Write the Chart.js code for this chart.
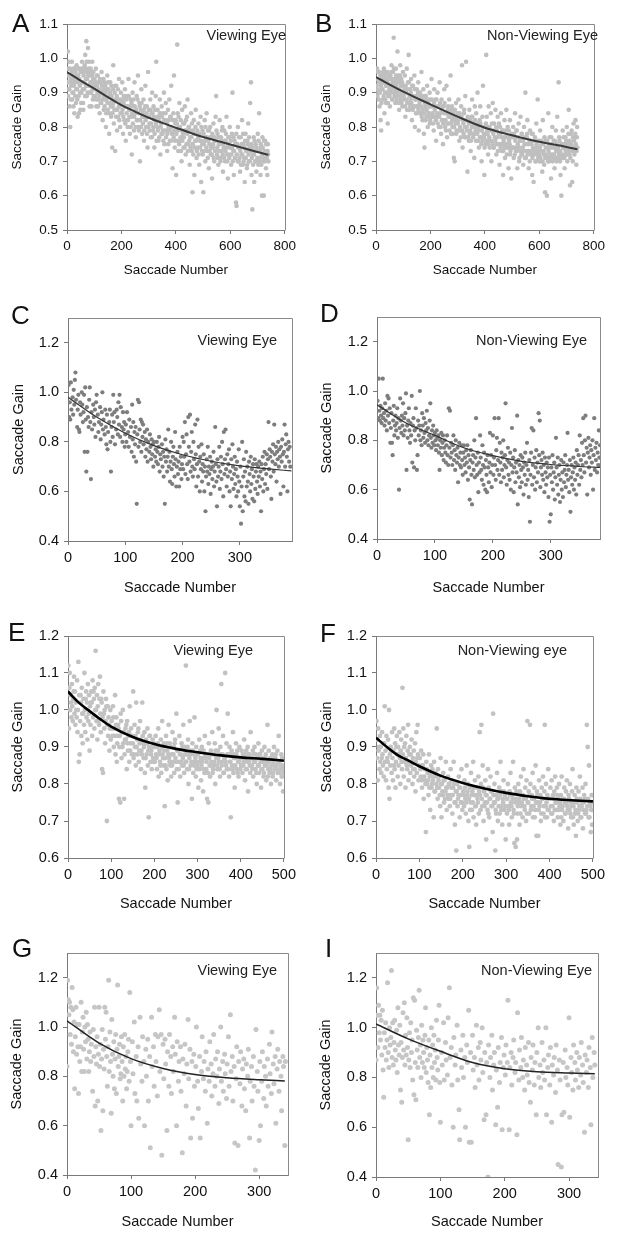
<!DOCTYPE html>
<html>
<head>
<meta charset="utf-8">
<script src="https://cdn.jsdelivr.net/npm/chart.js@4.4.1/dist/chart.umd.min.js"></script>
<style>
  html, body { margin: 0; padding: 0; background: #fff; }
  #fig { position: relative; width: 618px; height: 1238px; overflow: hidden; font-family: "Liberation Sans", Arial, sans-serif; }
  #fig canvas { position: absolute; }
  .lab { position: absolute; font-size: 26px; line-height: 1; color: #111; }
  .note { position: absolute; font-size: 14.5px; line-height: 1; color: #222; white-space: nowrap; }
</style>
</head>
<body>
<div id="fig"></div>
<script>
// tick labels
const xTicksAB = [0, 200, 400, 600, 800];
const yTicksAB = [0.5, 0.6, 0.7, 0.8, 0.9, 1.0, 1.1];
const xTicksCD = [0, 100, 200, 300];
const yTicksCD = [0.4, 0.6, 0.8, 1.0, 1.2];
const xTicksEF = [0, 100, 200, 300, 400, 500];
const yTicksEF = [0.6, 0.7, 0.8, 0.9, 1.0, 1.1, 1.2];
const xTicksGI = [0, 100, 200, 300];
const yTicksGI = [0.4, 0.6, 0.8, 1.0, 1.2];

// fitted curves
const fitA = [[0,0.96],[50,0.935],[100,0.912],[150,0.887],[200,0.864],[250,0.845],[300,0.827],[350,0.812],[400,0.798],[450,0.784],[500,0.771],[550,0.76],[600,0.749],[650,0.738],[700,0.727],[740,0.719]];
const fitB = [[0,0.945],[100,0.903],[200,0.866],[300,0.83],[400,0.798],[500,0.776],[600,0.757],[700,0.742],[740,0.735]];
const fitC = [[0,0.98],[50,0.9],[100,0.835],[150,0.785],[200,0.748],[250,0.722],[300,0.703],[350,0.691],[390,0.683]];
const fitD = [[0,0.944],[50,0.87],[100,0.82],[150,0.77],[200,0.738],[250,0.715],[300,0.702],[350,0.694],[385,0.69]];
const fitE = [[0,1.05],[25,1.02],[50,0.997],[75,0.975],[100,0.955],[150,0.927],[200,0.908],[250,0.895],[300,0.886],[350,0.878],[400,0.872],[450,0.868],[500,0.863]];
const fitF = [[0,0.925],[25,0.9],[50,0.878],[75,0.863],[100,0.848],[150,0.822],[200,0.803],[250,0.788],[300,0.776],[350,0.767],[400,0.76],[450,0.756],[500,0.753]];
const fitG = [[0,1.025],[50,0.935],[100,0.872],[150,0.832],[200,0.807],[250,0.794],[300,0.786],[340,0.781]];
const fitI = [[0,1.015],[50,0.955],[100,0.905],[150,0.86],[200,0.835],[250,0.823],[300,0.818],[340,0.815]];

// saccade gains [saccade number, gain]
const ptsA = [[2,0.93],[3,1.02],[4,0.89],[5,0.97],[7,0.91],[9,0.99],[10,0.86],[12,0.80],[13,0.94],[15,0.92],[17,0.96],[19,0.88],[21,0.95],[23,0.90],[25,0.97],[27,0.84],[29,0.93],[31,0.96],[33,0.87],[35,0.98],[37,0.91],[39,0.83],[41,0.95],[43,0.89],[45,0.97],[47,0.92],[49,0.85],[51,0.96],[53,0.90],[55,0.99],[57,0.93],[59,0.87],[61,0.95],[63,0.91],[65,0.98],[67,1.01],[69,0.94],[71,1.05],[73,0.89],[75,0.96],[77,1.03],[79,0.92],[81,0.99],[83,0.86],[85,0.95],[87,0.97],[89,0.90],[91,0.93],[93,0.99],[95,0.88],[97,0.96],[99,0.92],
[101,0.94],[104,0.89],[106,0.97],[108,0.86],[110,0.92],[113,0.95],[115,0.88],[117,0.91],[120,0.84],[122,0.93],[124,0.87],[127,0.96],[129,0.90],[131,0.82],[134,0.94],[136,0.89],[138,0.86],[141,0.92],[143,0.80],[145,0.88],[148,0.95],[150,0.85],[152,0.91],[155,0.78],[157,0.87],[159,0.93],[162,0.83],[164,0.89],[166,0.74],[168,0.86],[170,0.98],[172,0.81],[175,0.90],[177,0.73],[179,0.85],[181,0.92],[184,0.79],[186,0.88],[188,0.83],[191,0.94],[193,0.86],[195,0.80],[198,0.90],
[201,0.84],[203,0.93],[206,0.78],[208,0.87],[211,0.82],[213,0.91],[216,0.76],[218,0.86],[221,0.89],[223,0.80],[226,0.94],[228,0.85],[231,0.78],[233,0.88],[236,0.83],[238,0.72],[241,0.90],[243,0.86],[246,0.79],[248,0.93],[251,0.84],[253,0.77],[256,0.89],[258,0.82],[261,0.95],[263,0.80],[266,0.87],[268,0.70],[271,0.85],[273,0.91],[276,0.78],[278,0.84],[281,0.88],[283,0.76],[286,0.83],[288,0.92],[291,0.80],[293,0.86],[296,0.74],[298,0.96],
[301,0.85],[303,0.81],[306,0.88],[308,0.77],[311,0.84],[313,0.90],[316,0.79],[318,0.86],[321,0.74],[323,0.82],[326,0.89],[328,0.99],[331,0.80],[333,0.85],[336,0.76],[338,0.83],[341,0.88],[343,0.72],[346,0.81],[348,0.86],[351,0.78],[353,0.84],[356,0.90],[358,0.75],[361,0.82],[363,0.87],[366,0.79],[368,0.73],[371,0.85],[373,0.80],[376,0.88],[378,0.76],[381,0.83],[383,0.92],[386,0.78],[388,0.68],[391,0.84],[393,0.95],[396,0.74],[398,0.81],
[401,0.66],[403,0.79],[405,1.04],[407,0.84],[409,0.73],[411,0.80],[413,0.87],[416,0.76],[418,0.82],[421,0.70],[423,0.85],[426,0.78],[428,0.74],[431,0.81],[433,0.86],[436,0.72],[438,0.79],[441,0.83],[443,0.88],[446,0.75],[448,0.80],[451,0.69],[453,0.77],[456,0.84],[458,0.73],[461,0.61],[463,0.79],[466,0.82],[468,0.66],[471,0.76],[473,0.85],[476,0.71],[478,0.78],[481,0.74],[483,0.81],[486,0.69],[488,0.76],[491,0.83],[493,0.64],[496,0.73],[498,0.79],
[501,0.61],[503,0.75],[506,0.82],[508,0.70],[511,0.77],[513,0.84],[516,0.73],[518,0.79],[521,0.68],[523,0.75],[526,0.80],[528,0.72],[531,0.77],[533,0.65],[536,0.74],[538,0.81],[541,0.70],[543,0.76],[546,0.83],[548,0.89],[551,0.72],[553,0.78],[556,0.69],[558,0.75],[561,0.82],[563,0.71],[566,0.77],[568,0.73],[571,0.80],[573,0.67],[576,0.74],[578,0.79],[581,0.70],[583,0.76],[586,0.83],[588,0.72],[591,0.65],[593,0.77],[596,0.71],[598,0.80],
[601,0.74],[603,0.69],[606,0.78],[608,0.90],[611,0.73],[613,0.66],[616,0.76],[618,0.71],[621,0.58],[623,0.57],[626,0.75],[628,0.80],[631,0.70],[633,0.74],[636,0.67],[638,0.77],[641,0.72],[643,0.82],[646,0.69],[648,0.75],[651,0.71],[653,0.64],[656,0.78],[658,0.73],[661,0.68],[663,0.76],[666,0.81],[668,0.70],[671,0.74],[673,0.87],[676,0.93],[678,0.66],[681,0.56],[683,0.72],[686,0.77],[688,0.64],[691,0.70],[693,0.75],[696,0.67],[698,0.73],[701,0.78],[703,0.69],[706,0.84],[708,0.71],[711,0.66],[713,0.74],[716,0.60],[718,0.77],[721,0.70],[723,0.60],[726,0.73],[728,0.76],[731,0.68],[733,0.72],[736,0.66],[738,0.75],[740,0.70]];
const ptsAcore = [[6,0.95],[8,0.91],[11,0.97],[14,0.88],[16,0.93],[18,0.99],[20,0.90],[22,0.94],[24,0.86],[26,0.92],[28,0.97],[30,0.89],[32,0.94],[34,0.91],[36,0.95],[38,0.88],[40,0.93],[42,0.97],[44,0.84],[46,0.94],[48,0.90],[50,0.96],[52,0.87],[54,0.93],[56,0.97],[58,0.91],[60,0.85],[62,0.96],[64,0.93],[66,0.89],[68,0.97],[70,0.92],[72,0.99],[74,0.94],[76,0.90],[78,0.95],[80,0.97],[82,0.92],[84,0.90],[86,0.93],[88,0.96],[90,0.86],[92,0.95],[94,0.91],[96,0.94],[98,0.89],
[102,0.91],[105,0.93],[107,0.88],[109,0.95],[112,0.90],[114,0.86],[116,0.93],[119,0.89],[121,0.94],[123,0.90],[126,0.87],[128,0.92],[130,0.88],[133,0.91],[135,0.85],[137,0.93],[140,0.88],[142,0.90],[144,0.84],[147,0.91],[149,0.87],[151,0.93],[154,0.89],[156,0.84],[158,0.90],[161,0.86],[163,0.92],[165,0.88],[167,0.84],[169,0.91],[171,0.87],[174,0.85],[176,0.92],[178,0.88],[180,0.83],[183,0.89],[185,0.85],[187,0.91],[190,0.86],[192,0.82],[194,0.88],[197,0.84],[199,0.87],
[202,0.88],[204,0.85],[207,0.83],[209,0.89],[212,0.86],[214,0.81],[217,0.88],[219,0.84],[222,0.86],[224,0.82],[227,0.89],[229,0.83],[232,0.86],[234,0.80],[237,0.87],[239,0.84],[242,0.81],[244,0.88],[247,0.83],[249,0.86],[252,0.80],[254,0.85],[257,0.82],[259,0.88],[262,0.84],[264,0.79],[267,0.86],[269,0.82],[272,0.80],[274,0.87],[277,0.83],[279,0.81],[282,0.85],[284,0.79],[287,0.86],[289,0.82],[292,0.84],[294,0.78],[297,0.83],[299,0.80],
[302,0.83],[304,0.79],[307,0.85],[309,0.81],[312,0.77],[314,0.84],[317,0.80],[319,0.83],[322,0.78],[324,0.85],[327,0.81],[329,0.76],[332,0.83],[334,0.79],[337,0.82],[339,0.77],[342,0.84],[344,0.80],[347,0.78],[349,0.83],[352,0.79],[354,0.76],[357,0.82],[359,0.79],[362,0.84],[364,0.77],[367,0.81],[369,0.78],[372,0.75],[374,0.82],[377,0.79],[379,0.83],[382,0.76],[384,0.80],[387,0.78],[389,0.82],[392,0.77],[394,0.79],[397,0.76],[399,0.82],
[402,0.78],[404,0.81],[406,0.76],[408,0.79],[410,0.83],[412,0.75],[415,0.80],[417,0.77],[419,0.73],[422,0.79],[424,0.76],[427,0.81],[429,0.77],[432,0.74],[434,0.79],[437,0.82],[439,0.75],[442,0.78],[444,0.73],[447,0.80],[449,0.76],[452,0.79],[454,0.74],[457,0.77],[459,0.81],[462,0.75],[464,0.72],[467,0.78],[469,0.74],[472,0.80],[474,0.76],[477,0.73],[479,0.79],[482,0.77],[484,0.72],[487,0.78],[489,0.74],[492,0.76],[494,0.80],[497,0.75],[499,0.72],
[502,0.78],[504,0.73],[507,0.76],[509,0.80],[512,0.74],[514,0.77],[517,0.71],[519,0.76],[522,0.79],[524,0.73],[527,0.77],[529,0.74],[532,0.72],[534,0.78],[537,0.75],[539,0.71],[542,0.77],[544,0.73],[547,0.76],[549,0.79],[552,0.74],[554,0.71],[557,0.77],[559,0.73],[562,0.75],[564,0.70],[567,0.76],[569,0.79],[572,0.72],[574,0.75],[577,0.71],[579,0.76],[582,0.73],[584,0.78],[587,0.74],[589,0.70],[592,0.75],[594,0.72],[597,0.77],[599,0.74],
[602,0.76],[604,0.72],[607,0.74],[609,0.70],[612,0.77],[614,0.73],[617,0.71],[619,0.75],[622,0.78],[624,0.72],[627,0.70],[629,0.74],[632,0.77],[634,0.71],[637,0.73],[639,0.69],[642,0.75],[644,0.72],[647,0.78],[649,0.70],[652,0.74],[654,0.76],[657,0.71],[659,0.73],[662,0.69],[664,0.75],[667,0.72],[669,0.77],[672,0.70],[674,0.73],[677,0.75],[679,0.71],[682,0.74],[684,0.69],[687,0.72],[689,0.76],[692,0.73],[694,0.70],[697,0.74],[699,0.71],[702,0.73],[704,0.76],[707,0.70],[709,0.73],[712,0.75],[714,0.69],[717,0.72],[719,0.74],[722,0.71],[724,0.76],[727,0.70],[729,0.73],[732,0.75],[734,0.71],[737,0.73],[739,0.72]];

const ptsB = [[2,0.92],[4,0.97],[5,0.89],[7,0.94],[9,0.90],[11,0.96],[13,0.86],[15,0.93],[17,0.82],[19,0.79],[21,0.91],[23,0.95],[25,0.88],[27,0.93],[29,0.97],[31,0.84],[33,0.90],[35,0.94],[37,0.87],[39,0.92],[41,0.96],[43,0.81],[45,0.89],[47,0.94],[49,0.91],[51,0.86],[53,0.95],[55,0.92],[57,0.98],[59,0.88],[61,0.93],[63,0.96],[65,1.06],[67,0.90],[69,0.94],[71,0.87],[73,0.97],[75,0.92],[77,0.89],[79,1.02],[81,0.95],[83,0.91],[85,0.85],[87,0.93],[89,0.98],[91,0.88],[93,0.94],[95,0.90],[97,0.86],[99,0.96],
[101,0.92],[104,0.88],[106,0.95],[108,0.83],[111,0.90],[113,0.97],[115,0.87],[118,0.93],[120,1.01],[122,0.85],[125,0.91],[127,0.88],[129,0.94],[132,0.82],[134,0.89],[136,0.92],[139,0.86],[141,0.95],[143,0.80],[146,0.88],[148,0.84],[150,0.91],[153,0.86],[155,0.93],[157,0.79],[160,0.87],[162,0.90],[164,0.84],[167,0.96],[169,0.88],[171,0.82],[174,0.91],[176,0.78],[178,0.74],[181,0.86],[183,0.89],[185,0.83],[188,0.92],[190,0.80],[192,0.87],[195,0.84],[197,0.90],[199,0.82],
[202,0.88],[204,0.94],[207,0.83],[209,0.86],[212,0.79],[214,0.91],[216,0.85],[219,0.88],[221,0.76],[224,0.83],[226,0.90],[229,0.86],[231,0.80],[234,0.93],[236,0.84],[239,0.78],[241,0.88],[244,0.82],[246,0.75],[249,0.86],[251,0.91],[254,0.80],[256,0.84],[259,0.92],[261,0.77],[264,0.85],[266,0.81],[269,0.88],[271,0.83],[274,0.95],[276,0.78],[279,0.86],[281,0.80],[284,0.84],[286,0.71],[289,0.70],[291,0.82],[294,0.87],[296,0.79],[299,0.84],
[301,0.81],[303,0.88],[306,0.76],[308,0.83],[311,0.79],[313,0.86],[316,0.98],[318,0.74],[321,0.81],[323,0.84],[326,0.77],[328,0.89],[331,0.99],[333,0.80],[336,0.67],[338,0.82],[341,0.76],[343,0.85],[346,0.79],[348,0.73],[351,0.83],[353,0.88],[356,0.78],[358,0.81],[361,0.71],[363,0.86],[366,0.79],[368,0.84],[371,0.76],[373,0.90],[376,0.80],[378,0.74],[381,0.82],[383,0.86],[386,0.77],[388,0.70],[391,0.83],[393,0.92],[396,0.78],[398,0.66],
[401,0.80],[403,0.75],[405,1.01],[407,0.83],[410,0.78],[412,0.72],[414,0.86],[417,0.80],[419,0.76],[422,0.84],[424,0.70],[427,0.79],[429,0.87],[432,0.74],[434,0.81],[437,0.77],[439,0.85],[442,0.72],[444,0.79],[447,0.83],[449,0.75],[452,0.81],[454,0.69],[457,0.78],[459,0.84],[462,0.73],[464,0.79],[467,0.66],[469,0.76],[472,0.82],[474,0.71],[477,0.77],[479,0.85],[482,0.74],[484,0.80],[487,0.68],[489,0.76],[492,0.82],[494,0.73],[497,0.65],[499,0.78],
[501,0.74],[504,0.80],[506,0.71],[509,0.77],[511,0.84],[514,0.73],[516,0.79],[519,0.68],[521,0.75],[524,0.81],[526,0.70],[529,0.76],[531,0.83],[534,0.72],[536,0.78],[539,0.74],[541,0.69],[544,0.80],[546,0.75],[549,0.90],[551,0.71],[554,0.77],[556,0.82],[559,0.73],[561,0.68],[564,0.76],[566,0.79],[569,0.72],[571,0.75],[574,0.66],[576,0.78],[579,0.64],[581,0.73],[584,0.77],[586,0.70],[589,0.81],[591,0.74],[594,0.88],[596,0.71],[599,0.76],
[601,0.72],[603,0.79],[606,0.70],[608,0.75],[611,0.67],[613,0.82],[616,0.73],[618,0.69],[621,0.61],[623,0.76],[626,0.71],[628,0.60],[631,0.74],[633,0.84],[636,0.70],[638,0.77],[641,0.72],[643,0.65],[646,0.75],[648,0.80],[651,0.71],[653,0.76],[656,0.68],[658,0.74],[661,0.79],[663,0.70],[666,0.83],[668,0.73],[671,0.93],[673,0.77],[676,0.70],[678,0.66],[681,0.60],[683,0.75],[686,0.79],[688,0.71],[691,0.74],[693,0.68],[696,0.77],[698,0.72],[701,0.80],[703,0.70],[706,0.75],[708,0.85],[711,0.72],[713,0.63],[716,0.78],[718,0.74],[721,0.64],[723,0.70],[726,0.81],[728,0.76],[731,0.73],[733,0.82],[736,0.69],[738,0.77],[740,0.74]];
const ptsBcore = [[3,0.94],[6,0.91],[8,0.96],[10,0.88],[12,0.93],[14,0.90],[16,0.95],[18,0.92],[20,0.87],[22,0.94],[24,0.91],[26,0.96],[28,0.89],[30,0.93],[32,0.95],[34,0.88],[36,0.92],[38,0.96],[40,0.90],[42,0.93],[44,0.87],[46,0.95],[48,0.92],[50,0.89],[52,0.94],[54,0.90],[56,0.96],[58,0.91],[60,0.88],[62,0.94],[64,0.92],[66,0.97],[68,0.89],[70,0.93],[72,0.91],[74,0.95],[76,0.88],[78,0.93],[80,0.90],[82,0.94],[84,0.87],[86,0.91],[88,0.95],[90,0.89],[92,0.92],[94,0.87],[96,0.93],[98,0.90],
[102,0.89],[105,0.91],[107,0.86],[109,0.92],[112,0.88],[114,0.85],[116,0.91],[119,0.87],[121,0.93],[123,0.89],[126,0.86],[128,0.90],[130,0.87],[133,0.92],[135,0.85],[137,0.89],[140,0.86],[142,0.91],[144,0.88],[147,0.84],[149,0.89],[151,0.86],[154,0.90],[156,0.85],[158,0.88],[161,0.84],[163,0.89],[165,0.86],[168,0.83],[170,0.88],[172,0.85],[175,0.89],[177,0.84],[179,0.87],[182,0.82],[184,0.88],[186,0.85],[189,0.83],[191,0.88],[193,0.84],[196,0.86],[198,0.81],
[201,0.86],[203,0.83],[205,0.88],[208,0.84],[210,0.81],[213,0.87],[215,0.83],[217,0.86],[220,0.82],[222,0.88],[225,0.84],[227,0.81],[230,0.86],[232,0.83],[235,0.87],[237,0.80],[240,0.85],[242,0.82],[245,0.86],[247,0.81],[250,0.84],[252,0.87],[255,0.82],[257,0.79],[260,0.84],[262,0.81],[265,0.86],[267,0.83],[270,0.79],[272,0.84],[275,0.81],[277,0.85],[280,0.82],[282,0.78],[285,0.83],[287,0.80],[290,0.85],[292,0.81],[295,0.78],[297,0.83],
[302,0.82],[304,0.79],[307,0.84],[309,0.80],[312,0.77],[314,0.83],[317,0.79],[319,0.82],[322,0.78],[324,0.85],[327,0.80],[329,0.77],[332,0.82],[334,0.79],[337,0.83],[339,0.77],[342,0.81],[344,0.78],[347,0.82],[349,0.76],[352,0.80],[354,0.83],[357,0.77],[359,0.80],[362,0.78],[364,0.82],[367,0.76],[369,0.80],[372,0.78],[374,0.81],[377,0.76],[379,0.79],[382,0.77],[384,0.81],[387,0.75],[389,0.79],[392,0.76],[394,0.80],[397,0.77],[399,0.74],
[402,0.78],[404,0.81],[406,0.76],[409,0.79],[411,0.75],[413,0.80],[416,0.77],[418,0.74],[421,0.79],[423,0.76],[426,0.81],[428,0.75],[431,0.78],[433,0.74],[436,0.79],[438,0.76],[441,0.80],[443,0.75],[446,0.77],[448,0.73],[451,0.78],[453,0.75],[456,0.80],[458,0.74],[461,0.77],[463,0.75],[466,0.79],[468,0.73],[471,0.77],[473,0.74],[476,0.79],[478,0.75],[481,0.72],[483,0.77],[486,0.74],[488,0.79],[491,0.75],[493,0.72],[496,0.77],[498,0.74],
[502,0.77],[505,0.74],[507,0.78],[510,0.72],[512,0.76],[515,0.74],[517,0.79],[520,0.73],[522,0.77],[525,0.74],[527,0.71],[530,0.76],[532,0.73],[535,0.78],[537,0.72],[540,0.76],[542,0.73],[545,0.77],[547,0.71],[550,0.75],[552,0.73],[555,0.78],[557,0.72],[560,0.75],[562,0.73],[565,0.70],[567,0.76],[570,0.73],[572,0.78],[575,0.71],[577,0.74],[580,0.72],[582,0.76],[585,0.73],[587,0.70],[590,0.75],[592,0.72],[595,0.76],[597,0.73],[600,0.70],
[602,0.74],[604,0.71],[607,0.76],[609,0.73],[612,0.70],[614,0.75],[617,0.72],[619,0.77],[622,0.71],[624,0.74],[627,0.72],[629,0.76],[632,0.70],[634,0.73],[637,0.75],[639,0.71],[642,0.74],[644,0.77],[647,0.72],[649,0.70],[652,0.74],[654,0.72],[657,0.76],[659,0.71],[662,0.73],[664,0.75],[667,0.71],[669,0.74],[672,0.72],[674,0.76],[677,0.73],[679,0.71],[682,0.75],[684,0.72],[687,0.74],[689,0.77],[692,0.71],[694,0.75],[697,0.73],[699,0.76],[702,0.72],[704,0.74],[707,0.78],[709,0.73],[712,0.76],[714,0.71],[717,0.75],[719,0.79],[722,0.73],[724,0.77],[727,0.74],[729,0.72],[732,0.78],[734,0.75],[737,0.73],[739,0.80]];

const ptsC = [[1,1.03],[2,0.90],[3,0.96],[4,0.89],[5,1.04],[6,0.93],[8,0.98],[9,0.91],[10,1.01],[11,0.95],[12,1.05],[13,1.08],[14,0.97],[16,0.86],[17,0.93],[18,0.99],[19,0.85],[20,0.84],[21,0.96],[22,0.91],[24,1.00],[25,0.95],[26,0.88],[27,0.92],[28,0.99],[29,0.76],[30,1.02],[31,0.89],[32,0.68],[33,0.94],[34,0.76],[35,0.90],[36,0.86],[37,0.97],[38,1.02],[39,0.88],[40,0.65],[41,0.92],[42,0.85],[44,0.95],[45,0.90],[46,0.87],[47,0.93],[48,0.82],[49,0.96],[50,0.99],[52,0.91],[53,0.84],[54,0.88],[56,0.94],[57,0.81],[58,0.87],[59,0.92],[60,1.00],[61,0.85],[62,0.89],[64,0.83],[65,0.93],[66,0.86],[67,0.79],[68,0.91],[69,0.77],[70,0.84],[72,0.88],[73,0.93],[74,0.80],[75,0.68],[76,0.86],[77,0.91],[78,0.82],[79,0.99],[80,0.88],[81,0.92],[82,0.79],[84,0.85],[85,0.93],[86,0.90],[87,0.83],[88,0.96],[89,0.87],[90,0.99],[91,0.82],[92,0.94],[94,0.86],[95,0.80],[96,0.92],[97,0.85],[98,0.88],[99,0.78],[100,0.83],
[101,0.87],[102,0.80],[103,0.92],[105,0.84],[106,0.78],[107,0.89],[108,0.82],[110,0.86],[111,0.76],[112,0.95],[113,0.81],[114,0.88],[115,0.74],[116,0.84],[117,0.79],[118,0.86],[119,0.72],[120,0.55],[121,0.83],[122,0.97],[123,0.78],[124,0.96],[125,0.85],[126,0.80],[127,0.89],[128,0.76],[129,0.88],[130,0.82],[131,0.87],[132,0.79],[134,0.84],[135,0.74],[136,0.81],[137,0.77],[138,0.85],[139,0.72],[140,0.80],[142,0.76],[143,0.83],[144,0.78],[145,0.73],[146,0.81],[147,0.75],[148,0.79],[149,0.70],[150,0.80],[152,0.74],[153,0.77],[154,0.72],[155,0.80],[156,0.76],[157,0.71],[158,0.78],[159,0.82],[160,0.68],[161,0.75],[162,0.73],[164,0.79],[165,0.70],[166,0.76],[167,0.66],[168,0.74],[169,0.55],[170,0.81],[171,0.72],[172,0.77],[173,0.68],[174,0.74],[175,0.85],[176,0.70],[177,0.76],[178,0.64],[179,0.72],[180,0.80],[181,0.69],[182,0.63],[183,0.74],[184,0.78],[185,0.71],[186,0.66],[187,0.84],[188,0.73],[189,0.62],[190,0.70],[191,0.76],[192,0.67],[193,0.72],[194,0.62],[195,0.78],[196,0.69],[197,0.74],[198,0.65],[199,0.71],[200,0.82],
[201,0.69],[202,0.80],[203,0.74],[204,0.88],[205,0.67],[206,0.75],[207,0.83],[208,0.71],[209,0.65],[210,0.90],[211,0.78],[212,0.72],[213,0.91],[214,0.68],[215,0.76],[216,0.84],[217,0.70],[218,0.66],[219,0.80],[220,0.73],[221,0.69],[222,0.87],[223,0.75],[224,0.62],[225,0.71],[226,0.89],[227,0.66],[228,0.78],[229,0.72],[230,0.60],[231,0.74],[232,0.69],[233,0.79],[234,0.64],[235,0.71],[236,0.68],[237,0.75],[238,0.60],[239,0.70],[240,0.52],[241,0.66],[242,0.73],[243,0.68],[244,0.78],[245,0.63],[246,0.70],[247,0.67],[248,0.74],[249,0.59],[250,0.69],[251,0.72],[252,0.65],[253,0.70],[254,0.76],[255,0.62],[256,0.68],[257,0.86],[258,0.71],[259,0.64],[260,0.54],[261,0.73],[262,0.66],[263,0.70],[264,0.78],[265,0.61],[266,0.68],[267,0.74],[268,0.65],[269,0.80],[270,0.71],[271,0.58],[272,0.84],[273,0.67],[274,0.73],[275,0.85],[276,0.69],[277,0.62],[278,0.75],[279,0.66],[280,0.71],[281,0.77],[282,0.60],[283,0.68],[284,0.54],[285,0.73],[286,0.65],[287,0.79],[288,0.70],[289,0.61],[290,0.67],[291,0.74],[292,0.63],[293,0.69],[294,0.58],[295,0.72],[296,0.66],[297,0.60],[298,0.77],[299,0.64],[300,0.54],
[301,0.70],[302,0.47],[303,0.62],[304,0.80],[305,0.52],[306,0.66],[307,0.73],[308,0.58],[309,0.68],[310,0.56],[311,0.76],[312,0.62],[313,0.70],[314,0.64],[315,0.55],[316,0.72],[317,0.67],[318,0.60],[319,0.74],[320,0.63],[321,0.69],[322,0.57],[323,0.71],[324,0.66],[325,0.56],[326,0.73],[327,0.61],[328,0.68],[329,0.71],[330,0.64],[331,0.59],[332,0.70],[333,0.66],[334,0.72],[335,0.62],[336,0.68],[337,0.52],[338,0.71],[339,0.65],[340,0.74],[341,0.60],[342,0.69],[343,0.76],[344,0.63],[345,0.71],[346,0.67],[347,0.75],[348,0.61],[349,0.73],[350,0.88],[351,0.69],[352,0.77],[353,0.74],[354,0.66],[355,0.57],[356,0.76],[357,0.72],[358,0.79],[359,0.68],[360,0.87],[361,0.75],[362,0.71],[363,0.78],[364,0.64],[365,0.76],[366,0.73],[367,0.80],[368,0.70],[369,0.77],[370,0.74],[371,0.59],[372,0.78],[373,0.72],[374,0.81],[375,0.75],[376,0.62],[377,0.76],[378,0.87],[379,0.70],[380,0.79],[381,0.83],[382,0.74],[383,0.60],[384,0.77],[385,0.80],[386,0.72],[387,0.78],[388,0.70]];

const ptsD = [[1,0.96],[2,0.89],[3,1.05],[4,0.92],[5,0.88],[6,0.94],[7,0.90],[8,0.87],[9,0.93],[10,1.05],[11,0.89],[12,0.91],[13,0.86],[14,0.95],[15,0.88],[16,0.92],[17,0.84],[18,0.98],[19,0.90],[20,0.97],[21,0.87],[22,0.93],[23,0.79],[24,0.85],[25,0.91],[26,0.79],[27,0.74],[28,0.88],[29,0.94],[30,0.82],[31,0.86],[32,0.90],[33,0.84],[34,0.87],[35,0.93],[36,0.81],[37,0.89],[38,0.60],[39,0.85],[40,0.97],[41,0.88],[42,0.83],[43,0.90],[44,0.86],[45,0.95],[46,0.82],[47,0.89],[48,0.84],[49,0.91],[50,0.99],[51,0.68],[52,0.86],[53,0.81],[54,0.88],[55,0.93],[56,0.84],[57,0.79],[58,0.87],[59,0.82],[60,0.98],[61,0.71],[62,0.86],[63,0.89],[64,0.69],[65,0.84],[66,0.80],[67,0.93],[68,0.85],[69,0.68],[70,0.74],[71,0.88],[72,0.82],[73,0.86],[74,1.00],[75,0.80],[76,0.84],[77,0.78],[78,0.91],[79,0.86],[80,0.81],[81,0.89],[82,0.83],[83,0.79],[84,0.87],[85,0.84],[86,0.92],[87,0.80],[88,0.85],[89,0.78],[90,0.82],[91,0.88],[92,0.95],[93,0.81],[94,0.77],[95,0.84],[96,0.79],[97,0.86],[98,0.82],[99,0.78],[100,0.83],
[101,0.80],[102,0.76],[103,0.84],[104,0.81],[105,0.78],[106,0.82],[107,0.75],[108,0.68],[109,0.80],[110,0.77],[111,0.83],[112,0.74],[113,0.79],[114,0.82],[115,0.72],[116,0.77],[117,0.80],[118,0.75],[119,0.71],[120,0.78],[121,0.82],[122,0.74],[123,0.70],[124,0.93],[125,0.77],[126,0.92],[127,0.73],[128,0.79],[129,0.75],[130,0.70],[131,0.78],[132,0.82],[133,0.72],[134,0.76],[135,0.68],[136,0.80],[137,0.74],[138,0.71],[139,0.77],[140,0.63],[141,0.73],[142,0.79],[143,0.70],[144,0.75],[145,0.69],[146,0.78],[147,0.72],[148,0.66],[149,0.75],[150,0.78],[151,0.70],[152,0.73],[153,0.67],[154,0.76],[155,0.71],[156,0.78],[157,0.64],[158,0.74],[159,0.69],[160,0.56],[161,0.72],[162,0.76],[163,0.66],[164,0.54],[165,0.71],[166,0.74],[167,0.68],[168,0.80],[169,0.65],[170,0.73],[171,0.89],[172,0.70],[173,0.66],[174,0.75],[175,0.59],[176,0.71],[177,0.67],[178,0.82],[179,0.73],[180,0.68],[181,0.64],[182,0.78],[183,0.70],[184,0.62],[185,0.75],[186,0.69],[187,0.60],[188,0.72],[189,0.66],[190,0.59],[191,0.74],[192,0.69],[193,0.63],[194,0.71],[195,0.83],[196,0.67],[197,0.74],[198,0.61],[199,0.70],[200,0.82],
[201,0.66],[202,0.73],[203,0.89],[204,0.70],[205,0.64],[206,0.76],[207,0.81],[208,0.68],[209,0.72],[210,0.89],[211,0.66],[212,0.79],[213,0.71],[214,0.63],[215,0.75],[216,0.68],[217,0.73],[218,0.80],[219,0.65],[220,0.70],[221,0.74],[222,0.95],[223,0.69],[224,0.62],[225,0.72],[226,0.77],[227,0.66],[228,0.71],[229,0.64],[230,0.75],[231,0.60],[232,0.70],[233,0.85],[234,0.67],[235,0.73],[236,0.59],[237,0.69],[238,0.76],[239,0.63],[240,0.71],[241,0.67],[242,0.90],[243,0.54],[244,0.72],[245,0.65],[246,0.70],[247,0.61],[248,0.74],[249,0.68],[250,0.63],[251,0.73],[252,0.69],[253,0.58],[254,0.71],[255,0.66],[256,0.75],[257,0.62],[258,0.70],[259,0.79],[260,0.64],[261,0.68],[262,0.57],[263,0.72],[264,0.47],[265,0.66],[266,0.75],[267,0.85],[268,0.62],[269,0.70],[270,0.84],[271,0.65],[272,0.73],[273,0.60],[274,0.69],[275,0.76],[276,0.63],[277,0.71],[278,0.67],[279,0.91],[280,0.74],[281,0.88],[282,0.61],[283,0.69],[284,0.72],[285,0.66],[286,0.75],[287,0.64],[288,0.70],[289,0.59],[290,0.73],[291,0.67],[292,0.62],[293,0.71],[294,0.65],[295,0.69],[296,0.57],[297,0.73],[298,0.47],[299,0.66],[300,0.50],
[301,0.69],[302,0.63],[303,0.74],[304,0.60],[305,0.67],[306,0.71],[307,0.56],[308,0.65],[309,0.81],[310,0.69],[311,0.62],[312,0.73],[313,0.58],[314,0.66],[315,0.70],[316,0.55],[317,0.64],[318,0.72],[319,0.60],[320,0.67],[321,0.57],[322,0.71],[323,0.63],[324,0.68],[325,0.74],[326,0.61],[327,0.66],[328,0.70],[329,0.83],[330,0.64],[331,0.68],[332,0.59],[333,0.72],[334,0.51],[335,0.65],[336,0.70],[337,0.62],[338,0.67],[339,0.73],[340,0.60],[341,0.69],[342,0.64],[343,0.71],[344,0.58],[345,0.76],[346,0.66],[347,0.70],[348,0.74],[349,0.62],[350,0.82],[351,0.68],[352,0.72],[353,0.65],[354,0.79],[355,0.70],[356,0.89],[357,0.74],[358,0.67],[359,0.80],[360,0.90],[361,0.71],[362,0.77],[363,0.58],[364,0.75],[365,0.81],[366,0.69],[367,0.73],[368,0.78],[369,0.66],[370,0.76],[371,0.71],[372,0.80],[373,0.60],[374,0.74],[375,0.89],[376,0.68],[377,0.77],[378,0.72],[379,0.79],[380,0.67],[381,0.75],[382,0.70],[383,0.84],[384,0.73],[385,0.78]];

const ptsE = [[1,1.12],[2,0.95],[3,1.06],[4,1.10],[5,1.00],[6,1.04],[8,0.98],[9,1.07],[10,1.01],[11,0.97],[12,1.03],[14,1.09],[15,0.99],[16,1.05],[17,0.96],[18,1.02],[20,0.98],[21,1.08],[22,0.94],[23,1.00],[24,1.13],[25,0.86],[26,1.04],[27,0.88],[28,0.97],[30,1.02],[31,0.93],[32,1.06],[33,0.99],[34,0.91],[36,1.03],[37,0.96],[38,1.10],[39,1.00],[40,0.94],[42,1.05],[43,0.98],[44,1.02],[45,0.92],[46,1.07],[48,0.99],[49,1.04],[50,0.89],[51,1.01],[52,0.96],[54,1.05],[55,1.02],[56,0.93],[57,1.08],[58,0.98],[60,1.03],[61,0.95],[62,1.06],[63,1.00],[64,1.16],[66,0.97],[67,1.04],[68,0.92],[69,1.01],[70,1.07],[72,0.96],[73,1.03],[74,1.09],[75,0.99],[76,0.94],[78,1.02],[79,0.84],[80,0.98],[81,0.83],[82,1.05],[84,0.95],[85,1.00],[86,0.91],[87,0.97],[88,1.03],[90,0.70],[91,0.96],[92,1.01],[93,0.93],[94,0.98],[96,0.89],[97,0.95],[98,1.00],[99,0.92],
[101,0.97],[103,0.93],[104,1.01],[106,0.90],[107,0.95],[109,1.04],[110,0.88],[112,0.98],[113,0.86],[115,0.93],[116,0.96],[118,0.76],[119,0.90],[121,0.75],[122,0.99],[124,0.87],[125,0.94],[127,1.00],[128,0.91],[130,0.76],[131,0.88],[133,0.95],[134,0.92],[136,0.84],[137,0.97],[139,0.89],[140,0.93],[142,0.86],[143,1.01],[145,0.91],[146,0.95],[148,0.88],[149,0.93],[151,1.05],[152,0.87],[154,0.96],[155,0.90],[157,0.85],[158,1.02],[160,0.92],[161,0.88],[163,0.95],[164,0.86],[166,0.91],[167,0.97],[169,0.84],[170,0.89],[172,1.02],[173,0.93],[175,0.87],[176,0.90],[178,0.83],[179,0.79],[181,0.92],[182,0.88],[184,0.95],[185,0.85],[187,0.71],[188,0.90],[190,0.93],[191,0.86],[193,0.89],[194,0.84],[196,0.92],[197,0.87],[199,0.91],
[201,0.86],[203,0.93],[204,0.88],[206,0.84],[207,0.90],[209,0.95],[210,0.82],[212,0.89],[213,0.86],[215,0.92],[216,0.83],[218,0.97],[219,0.88],[221,0.85],[222,0.91],[224,0.74],[225,0.87],[227,0.93],[228,0.84],[230,0.89],[231,0.81],[233,0.96],[234,0.87],[236,0.91],[237,0.85],[239,0.82],[240,0.88],[242,0.94],[243,0.86],[245,0.90],[246,0.83],[248,0.92],[249,0.87],[251,0.99],[252,0.84],[254,0.75],[255,0.89],[257,0.86],[258,0.93],[260,0.82],[261,0.88],[263,0.91],[264,0.85],[266,0.87],[267,0.96],[269,0.83],[270,0.90],[272,0.86],[273,1.12],[275,0.88],[276,0.84],[278,0.92],[279,0.80],[281,0.87],[282,0.97],[284,0.85],[285,0.89],[287,0.76],[288,0.91],[290,0.83],[291,0.88],[293,0.98],[294,0.86],[296,0.82],[297,0.90],[299,0.85],
[301,0.88],[302,0.79],[304,0.92],[305,0.84],[307,0.87],[308,0.81],[310,0.90],[311,0.86],[313,0.78],[314,0.89],[316,0.83],[317,0.93],[319,0.87],[320,0.84],[322,0.76],[323,0.88],[325,0.75],[326,0.91],[328,0.85],[329,0.82],[331,0.89],[332,0.86],[334,0.94],[335,0.83],[337,0.88],[338,0.85],[340,0.91],[341,0.80],[343,0.87],[344,1.00],[346,0.84],[347,0.89],[349,0.95],[350,0.86],[352,0.82],[353,0.90],[355,1.07],[356,0.85],[358,0.88],[359,0.93],[361,0.83],[362,0.87],[364,1.10],[365,0.86],[367,0.91],[368,0.84],[370,0.99],[371,0.88],[373,0.82],[374,0.90],[376,0.86],[377,0.71],[379,0.89],[380,0.85],[382,0.94],[383,0.83],[385,0.88],[386,0.79],[388,0.87],[389,0.91],[391,0.84],[392,0.89],[394,0.86],[395,0.82],[397,0.90],[398,0.87],
[401,0.85],[402,0.89],[404,0.83],[405,0.88],[407,0.86],[408,0.92],[410,0.81],[411,0.87],[413,0.89],[414,0.84],[416,0.90],[417,0.78],[419,0.86],[420,0.88],[422,0.83],[423,0.94],[425,0.87],[426,0.85],[428,0.89],[429,0.82],[431,0.86],[432,0.90],[434,0.84],[435,0.88],[437,0.80],[438,0.87],[440,0.85],[441,0.91],[443,0.83],[444,0.88],[446,0.86],[447,0.79],[449,0.89],[450,0.84],[452,0.87],[453,0.82],[455,0.90],[456,0.85],[458,0.88],[459,0.81],[461,0.86],[462,0.96],[464,0.84],[465,0.89],[467,0.83],[468,0.87],[470,0.80],[471,0.85],[473,0.88],[474,0.82],[476,0.86],[477,0.90],[479,0.84],[480,0.87],[482,0.81],[483,0.85],[485,0.89],[486,0.83],[488,0.93],[489,0.86],[491,0.80],[492,0.84],[494,0.88],[495,0.82],[497,0.85],[498,0.78],[500,0.83]];
const ptsEcore = [[7,1.02],[13,1.05],[19,1.00],[29,1.04],[35,0.99],[41,1.03],[47,0.97],[53,1.02],[59,1.05],[65,1.00],[71,0.97],[77,1.03],[83,0.99],[89,1.01],[95,0.96],
[102,0.95],[105,0.98],[108,0.93],[111,0.96],[114,0.91],[117,0.95],[120,0.93],[123,0.97],[126,0.90],[129,0.94],[132,0.92],[135,0.96],[138,0.91],[141,0.94],[144,0.89],[147,0.93],[150,0.91],[153,0.88],[156,0.93],[159,0.90],[162,0.94],[165,0.89],[168,0.92],[171,0.88],[174,0.91],[177,0.94],[180,0.87],[183,0.91],[186,0.89],[189,0.93],[192,0.88],[195,0.90],[198,0.86],
[202,0.90],[205,0.87],[208,0.91],[211,0.88],[214,0.85],[217,0.90],[220,0.87],[223,0.89],[226,0.85],[229,0.91],[232,0.88],[235,0.86],[238,0.90],[241,0.85],[244,0.88],[247,0.91],[250,0.86],[253,0.89],[256,0.84],[259,0.88],[262,0.86],[265,0.90],[268,0.85],[271,0.88],[274,0.86],[277,0.90],[280,0.84],[283,0.88],[286,0.86],[289,0.89],[292,0.85],[295,0.87],[298,0.84],
[303,0.86],[306,0.89],[309,0.85],[312,0.87],[315,0.84],[318,0.88],[321,0.86],[324,0.83],[327,0.87],[330,0.85],[333,0.88],[336,0.84],[339,0.86],[342,0.89],[345,0.85],[348,0.87],[351,0.84],[354,0.88],[357,0.86],[360,0.83],[363,0.87],[366,0.85],[369,0.88],[372,0.84],[375,0.86],[378,0.88],[381,0.84],[384,0.87],[387,0.85],[390,0.88],[393,0.83],[396,0.86],[399,0.84],
[403,0.87],[406,0.85],[409,0.88],[412,0.84],[415,0.86],[418,0.88],[421,0.85],[424,0.87],[427,0.84],[430,0.88],[433,0.86],[436,0.83],[439,0.87],[442,0.85],[445,0.88],[448,0.84],[451,0.86],[454,0.83],[457,0.87],[460,0.85],[463,0.82],[466,0.86],[469,0.84],[472,0.87],[475,0.83],[478,0.85],[481,0.88],[484,0.84],[487,0.86],[490,0.83],[493,0.85],[496,0.87],[499,0.84]];

const ptsF = [[1,0.97],[2,0.87],[3,0.92],[4,0.81],[5,0.95],[6,0.89],[8,0.84],[9,0.93],[10,0.86],[11,0.90],[12,0.83],[14,0.94],[15,0.88],[16,0.85],[17,0.91],[18,0.82],[20,1.01],[21,0.86],[22,0.89],[23,0.81],[24,0.93],[25,0.84],[26,0.87],[28,0.92],[29,0.79],[30,1.00],[31,0.76],[32,0.88],[33,0.85],[34,0.90],[36,0.83],[37,0.94],[38,0.87],[39,0.81],[40,0.89],[42,0.95],[43,0.84],[44,0.91],[45,0.79],[46,0.86],[48,0.93],[49,0.88],[50,0.82],[51,0.90],[52,0.85],[54,0.94],[55,0.87],[56,0.80],[57,0.89],[58,0.92],[60,0.84],[61,1.06],[62,0.88],[63,0.95],[64,0.82],[66,0.86],[67,0.91],[68,0.79],[69,0.87],[70,0.93],[72,0.84],[73,0.89],[74,0.96],[75,0.81],[76,0.86],[78,0.90],[79,0.83],[80,0.88],[81,0.85],[82,0.92],[84,0.80],[85,0.87],[86,0.84],[87,0.89],[88,0.82],[90,0.91],[91,0.78],[92,0.86],[93,0.94],[94,0.83],[96,0.96],[97,0.88],[98,0.81],[99,0.85],
[101,0.87],[103,0.82],[104,0.89],[106,0.79],[107,0.85],[109,0.88],[110,0.76],[112,0.84],[113,0.81],[115,0.67],[116,0.86],[118,0.80],[119,0.83],[121,0.77],[122,0.88],[124,0.82],[125,0.73],[127,0.85],[128,0.79],[130,0.84],[131,0.81],[133,0.71],[134,0.86],[136,0.78],[137,0.83],[139,0.80],[140,0.95],[142,0.76],[143,0.84],[145,0.79],[146,0.82],[148,0.74],[149,0.87],[151,0.71],[152,0.80],[154,0.77],[155,0.83],[157,0.75],[158,0.81],[160,0.78],[161,0.86],[163,0.73],[164,0.79],[166,0.82],[167,0.76],[169,0.80],[170,0.74],[172,0.84],[173,0.77],[175,0.81],[176,0.72],[178,0.79],[179,0.86],[181,0.75],[182,0.69],[184,0.78],[185,0.62],[187,0.80],[188,0.74],[190,0.77],[191,0.82],[193,0.71],[194,0.79],[196,0.75],[197,0.84],[199,0.73],
[201,0.78],[203,0.74],[204,0.81],[206,0.76],[207,0.72],[209,0.85],[210,0.77],[212,0.80],[213,0.70],[215,0.63],[216,0.79],[218,0.75],[219,0.83],[221,0.73],[222,0.78],[224,0.86],[225,0.71],[227,0.77],[228,0.81],[230,0.74],[231,0.69],[233,0.79],[234,0.76],[236,0.82],[237,0.72],[239,0.94],[240,0.77],[242,0.80],[243,0.96],[245,0.74],[246,0.85],[248,0.70],[249,0.78],[251,0.75],[252,0.81],[254,0.65],[255,0.77],[257,0.73],[258,0.84],[260,0.79],[261,0.71],[263,0.76],[264,0.82],[266,0.74],[267,0.78],[269,0.67],[270,0.99],[272,0.75],[273,0.80],[275,0.62],[276,0.73],[278,0.77],[279,0.83],[281,0.70],[282,0.76],[284,0.79],[285,0.72],[287,0.86],[288,0.74],[290,0.78],[291,0.69],[293,0.75],[294,0.81],[296,0.73],[297,0.77],[299,0.65],
[301,0.76],[302,0.72],[304,0.80],[305,0.74],[307,0.69],[308,0.78],[310,0.83],[311,0.75],[313,0.71],[314,0.77],[316,0.86],[317,0.73],[319,0.64],[320,0.79],[322,0.63],[323,0.76],[325,0.65],[326,0.72],[328,0.80],[329,0.75],[331,0.69],[332,0.78],[334,0.82],[335,0.74],[337,0.77],[338,0.71],[340,0.84],[341,0.76],[343,0.73],[344,0.79],[346,0.70],[347,0.81],[349,0.97],[350,0.75],[352,0.78],[353,0.72],[355,0.96],[356,0.80],[358,0.74],[359,0.77],[361,0.83],[362,0.71],[364,0.76],[365,0.79],[367,0.73],[368,0.85],[370,0.66],[371,0.78],[373,0.75],[374,0.66],[376,0.81],[377,0.74],[379,0.77],[380,0.70],[382,0.79],[383,0.76],[385,0.82],[386,0.72],[388,0.78],[389,0.96],[391,0.74],[392,0.80],[394,0.71],[395,0.77],[397,0.84],[398,0.73],
[401,0.76],[402,0.79],[404,0.72],[405,0.81],[407,0.74],[408,0.77],[410,0.70],[411,0.78],[413,0.82],[414,0.75],[416,0.73],[417,0.79],[419,0.71],[420,0.76],[422,0.80],[423,0.74],[425,0.69],[426,0.77],[428,0.82],[429,0.73],[431,0.76],[432,0.70],[434,0.79],[435,0.75],[437,0.72],[438,0.78],[440,0.81],[441,0.74],[443,0.68],[444,0.77],[446,0.73],[447,0.80],[449,0.75],[450,0.71],[452,0.78],[453,0.84],[455,0.74],[456,0.69],[458,0.77],[459,0.72],[461,0.66],[462,0.79],[464,0.75],[465,0.70],[467,0.78],[468,0.73],[470,0.82],[471,0.76],[473,0.71],[474,0.74],[476,0.79],[477,0.68],[479,0.75],[480,0.77],[482,0.72],[483,0.80],[485,0.73],[486,0.96],[488,0.90],[489,0.76],[491,0.85],[492,0.71],[494,0.74],[495,0.67],[497,0.77],[498,0.69],[500,0.73]];
const ptsFcore = [[7,0.90],[13,0.87],[19,0.91],[27,0.86],[35,0.89],[41,0.85],[47,0.90],[53,0.88],[59,0.86],[65,0.90],[71,0.85],[77,0.88],[83,0.86],[89,0.84],[95,0.87],
[102,0.84],[105,0.81],[108,0.85],[111,0.82],[114,0.80],[117,0.84],[120,0.81],[123,0.79],[126,0.83],[129,0.80],[132,0.82],[135,0.78],[138,0.82],[141,0.79],[144,0.81],[147,0.77],[150,0.80],[153,0.78],[156,0.81],[159,0.76],[162,0.79],[165,0.77],[168,0.80],[171,0.76],[174,0.79],[177,0.77],[180,0.80],[183,0.75],[186,0.78],[189,0.76],[192,0.79],[195,0.77],[198,0.75],
[202,0.77],[205,0.79],[208,0.75],[211,0.78],[214,0.76],[217,0.73],[220,0.77],[223,0.75],[226,0.79],[229,0.74],[232,0.77],[235,0.75],[238,0.78],[241,0.73],[244,0.76],[247,0.79],[250,0.74],[253,0.77],[256,0.75],[259,0.72],[262,0.76],[265,0.78],[268,0.74],[271,0.77],[274,0.75],[277,0.72],[280,0.76],[283,0.74],[286,0.77],[289,0.73],[292,0.76],[295,0.78],[298,0.74],
[303,0.76],[306,0.73],[309,0.77],[312,0.74],[315,0.76],[318,0.72],[321,0.75],[324,0.78],[327,0.74],[330,0.76],[333,0.72],[336,0.75],[339,0.77],[342,0.74],[345,0.76],[348,0.72],[351,0.75],[354,0.77],[357,0.73],[360,0.76],[363,0.74],[366,0.71],[369,0.75],[372,0.77],[375,0.73],[378,0.75],[381,0.72],[384,0.76],[387,0.74],[390,0.71],[393,0.75],[396,0.73],[399,0.76],
[403,0.74],[406,0.72],[409,0.76],[412,0.73],[415,0.75],[418,0.77],[421,0.73],[424,0.75],[427,0.71],[430,0.74],[433,0.76],[436,0.72],[439,0.75],[442,0.73],[445,0.76],[448,0.72],[451,0.74],[454,0.71],[457,0.75],[460,0.73],[463,0.76],[466,0.72],[469,0.74],[472,0.71],[475,0.75],[478,0.73],[481,0.76],[484,0.72],[487,0.74],[490,0.71],[493,0.75],[496,0.73],[499,0.75]];

const ptsG = [[0,0.84],[1,1.19],[2,1.11],[3,1.05],[4,1.10],[5,0.97],[6,1.08],[7,0.93],[8,1.16],[9,1.07],[10,0.90],[11,1.02],[12,0.75],[13,0.96],[14,1.08],[15,0.89],[16,1.01],[17,0.92],[18,0.73],[19,1.01],[20,0.86],[21,0.92],[22,1.10],[23,0.82],[24,0.98],[25,1.04],[26,0.91],[27,0.82],[28,1.00],[29,0.94],[30,1.06],[31,0.87],[32,1.01],[33,0.95],[34,0.82],[35,0.90],[36,0.98],[37,0.86],[38,0.93],[40,0.74],[41,0.99],[42,0.88],[43,1.08],[44,0.68],[45,0.92],[46,0.85],[47,0.96],[48,0.70],[49,0.89],[50,1.08],[51,0.84],[52,0.93],[53,0.58],[54,0.87],[55,0.99],[56,0.66],[57,0.91],[58,0.83],[59,1.08],[60,0.95],[61,1.06],[62,0.88],[63,0.76],[64,0.92],[65,1.19],[66,0.82],[67,0.98],[68,0.86],[69,0.65],[70,1.03],[71,0.89],[72,0.80],[73,0.94],[74,0.75],[75,0.87],[76,0.97],[77,0.73],[78,0.91],[79,1.17],[80,0.84],[81,0.88],[82,0.93],[83,0.79],[84,0.81],[85,0.96],[86,0.86],[87,0.70],[88,0.92],[89,0.80],[90,0.97],[91,0.83],[92,0.88],[93,0.75],[94,0.82],[95,0.90],[96,0.95],[97,0.78],[98,1.14],[99,0.86],[100,0.60],
[102,0.94],[103,0.81],[105,1.02],[106,0.73],[108,0.88],[109,0.70],[111,0.92],[112,0.63],[114,1.04],[115,0.85],[117,0.78],[118,0.96],[120,0.86],[121,0.60],[123,0.91],[124,0.80],[126,0.95],[127,0.70],[129,0.88],[130,0.51],[132,1.04],[133,0.84],[135,0.92],[136,0.76],[138,0.97],[139,0.86],[141,0.72],[142,0.96],[144,1.07],[145,0.82],[147,0.97],[148,0.48],[150,0.93],[151,0.79],[153,0.95],[154,0.85],[156,0.58],[157,0.90],[159,0.76],[160,0.97],[162,0.88],[163,0.73],[165,0.92],[166,0.82],[168,1.04],[169,0.89],[171,0.60],[172,0.94],[174,0.78],[175,0.86],[177,0.92],[178,0.74],[180,0.49],[181,0.87],[183,0.81],[184,0.93],[186,0.68],[187,0.85],[189,1.03],[190,0.79],[192,0.91],[193,0.55],[195,0.86],[196,0.63],[198,0.89],[199,0.76],
[201,0.84],[202,1.00],[204,0.78],[205,0.67],[207,0.88],[208,0.55],[210,0.82],[211,0.96],[213,0.79],[214,0.86],[216,0.74],[217,0.90],[219,0.61],[220,0.83],[222,0.78],[223,0.94],[225,0.85],[226,0.72],[228,0.81],[229,0.97],[231,0.76],[232,0.87],[234,0.80],[235,0.90],[237,0.69],[238,0.83],[240,1.00],[241,0.78],[243,0.86],[244,0.74],[246,0.89],[247,0.81],[249,0.71],[250,0.85],[252,0.96],[253,0.76],[255,1.05],[256,0.82],[258,0.88],[259,0.70],[261,0.84],[262,0.53],[264,0.79],[265,0.92],[267,0.52],[268,0.86],[270,0.77],[271,0.90],[273,0.68],[274,0.83],[276,0.87],[277,0.75],[279,0.66],[280,0.85],[282,0.80],[283,0.91],[285,0.55],[286,0.78],[288,0.84],[289,0.70],[291,0.88],[292,0.76],[294,0.42],[295,0.99],[297,0.82],[298,0.74],[300,0.54],[301,0.86],[302,0.60],[304,0.78],[305,0.90],[307,0.71],[308,0.84],[310,0.80],[311,0.68],[313,0.87],[314,0.76],[316,0.93],[317,0.81],[319,0.73],[320,0.98],[322,0.85],[323,0.77],[325,0.88],[326,0.61],[328,0.83],[329,0.91],[331,0.74],[332,0.86],[334,0.80],[335,0.66],[337,0.88],[338,0.84],[340,0.52],[341,0.86]];

const ptsI = [[0,0.87],[1,1.16],[2,1.05],[3,0.92],[4,1.09],[5,0.98],[6,1.05],[7,0.95],[8,1.03],[9,0.89],[10,1.07],[11,0.83],[12,0.72],[13,0.98],[14,0.92],[15,1.02],[16,0.87],[17,0.95],[18,1.18],[19,0.90],[20,0.84],[21,1.00],[22,0.93],[23,0.96],[24,1.23],[25,0.88],[26,1.02],[27,0.85],[28,0.94],[29,1.03],[30,0.91],[31,0.87],[32,0.99],[33,0.82],[34,1.08],[35,0.93],[36,0.89],[37,1.01],[38,0.75],[39,0.94],[40,0.70],[41,0.88],[42,1.06],[43,0.91],[44,1.10],[45,0.85],[46,0.97],[47,0.89],[48,1.04],[49,0.92],[50,0.55],[51,0.87],[52,0.98],[53,0.84],[54,1.02],[55,0.90],[56,0.95],[57,0.79],[58,1.12],[59,0.73],[60,1.11],[61,0.86],[62,0.71],[63,0.99],[64,0.91],[65,0.84],[66,0.96],[67,1.15],[68,0.88],[69,0.93],[70,0.80],[71,1.01],[72,0.86],[73,0.95],[74,0.90],[75,0.84],[76,0.97],[77,1.08],[78,0.82],[79,0.92],[80,0.87],[81,0.78],[82,0.95],[83,0.65],[84,0.89],[85,0.76],[86,1.00],[87,0.84],[88,0.93],[89,0.80],[90,0.97],[91,0.86],[92,0.91],[93,0.79],[94,1.03],[95,0.88],[96,0.83],[97,0.95],[98,1.09],[99,0.78],[100,0.62],
[102,0.90],[103,0.85],[105,1.02],[106,0.79],[108,0.94],[109,0.87],[111,0.81],[112,1.04],[114,1.16],[115,0.88],[117,0.92],[118,0.77],[120,0.60],[121,0.96],[123,0.85],[124,0.89],[126,1.01],[127,0.79],[129,0.67],[130,0.55],[132,0.91],[133,0.84],[135,0.97],[136,0.80],[138,0.88],[139,0.60],[141,0.93],[142,0.86],[144,1.07],[145,0.54],[147,0.90],[148,0.54],[150,0.97],[151,0.83],[153,0.88],[154,0.76],[156,1.01],[157,0.85],[159,0.92],[160,0.79],[162,0.94],[163,0.87],[165,1.00],[166,0.82],[168,0.63],[169,0.90],[171,0.65],[172,0.86],[174,0.40],[175,0.93],[177,0.80],[178,0.88],[180,0.97],[181,0.75],[183,0.85],[184,0.90],[186,0.61],[187,0.83],[189,0.68],[190,0.92],[192,0.78],[193,0.86],[195,0.96],[196,0.59],[198,0.84],[199,0.89],
[201,0.81],[202,0.93],[204,0.86],[205,1.11],[207,0.59],[208,0.84],[210,0.90],[211,0.77],[213,0.88],[214,0.95],[216,0.82],[217,0.86],[219,0.57],[220,1.06],[222,0.79],[223,0.91],[225,0.84],[226,0.96],[228,0.80],[229,0.87],[231,0.75],[232,0.92],[234,0.85],[235,0.81],[237,0.94],[238,0.78],[240,0.70],[241,0.88],[243,0.83],[244,0.93],[246,0.77],[247,0.86],[249,0.65],[250,0.90],[252,1.00],[253,0.80],[255,0.85],[256,0.76],[258,0.94],[259,0.82],[261,0.87],[262,0.79],[264,1.00],[265,0.65],[267,0.84],[268,0.89],[270,0.77],[271,0.92],[273,0.62],[274,0.85],[276,0.81],[277,0.88],[279,0.74],[280,0.93],[282,0.83],[283,0.45],[285,0.87],[286,0.79],[288,0.44],[289,0.65],[291,0.86],[292,0.66],[294,0.91],[295,0.80],[297,0.84],[298,0.77],[300,1.04],[301,0.64],[303,0.88],[304,0.82],[306,0.75],[307,0.93],[309,0.86],[310,0.79],[312,0.90],[313,0.83],[315,0.76],[316,0.88],[318,0.81],[319,0.94],[321,0.85],[322,0.78],[324,0.58],[325,0.89],[327,0.82],[328,0.87],[330,0.76],[331,0.92],[333,0.84],[334,0.61],[336,0.96],[337,0.80],[339,0.90],[340,0.85]];

// panel layout: box = canvas [left, top, w, h], plot = [L, T, R, B] in page px
// ytc / xtc = axis-title centre offsets (from canvas left / from plot bottom)
const panels = [
  { letter: 'A', lx: 12, ly: 10, note: 'Viewing Eye', nr: 286, nt: 28, pts: ptsA.concat(ptsAcore), fit: fitA, xMax: 800, yMin: 0.5, yMax: 1.1, xt: xTicksAB, yt: yTicksAB,
    box: [0, 0, 300, 282], plot: [67, 24, 290, 230], ytc: 17, xtc: 40, fs: 13.5, dot: '#bfbfbf', r: 2.3, line: '#3a3a3a', lw: 2 },
  { letter: 'B', lx: 315, ly: 10, note: 'Non-Viewing Eye', nr: 598, nt: 28, pts: ptsB.concat(ptsBcore), fit: fitB, xMax: 800, yMin: 0.5, yMax: 1.1, xt: xTicksAB, yt: yTicksAB,
    box: [309, 0, 300, 282], plot: [376, 24, 599, 230], ytc: 17, xtc: 40, fs: 13.5, dot: '#bfbfbf', r: 2.3, line: '#3a3a3a', lw: 2 },
  { letter: 'C', lx: 11, ly: 302, note: 'Viewing Eye', nr: 277, nt: 333, pts: ptsC, fit: fitC, xMax: 391, yMin: 0.4, yMax: 1.3, xt: xTicksCD, yt: yTicksCD,
    box: [0, 290, 300, 310], plot: [68, 318, 292, 541], ytc: 19, xtc: 47, fs: 14.5, dot: '#7d7d7d', r: 2.1, line: '#333', lw: 1.2 },
  { letter: 'D', lx: 320, ly: 300, note: 'Non-Viewing Eye', nr: 587, nt: 333, pts: ptsD, fit: fitD, xMax: 385, yMin: 0.4, yMax: 1.3, xt: xTicksCD, yt: yTicksCD,
    box: [309, 290, 300, 310], plot: [377, 317, 600, 539], ytc: 18, xtc: 49, fs: 14.5, dot: '#7d7d7d', r: 2.1, line: '#333', lw: 1.2 },
  { letter: 'E', lx: 8, ly: 619, note: 'Viewing Eye', nr: 253, nt: 643, pts: ptsE.concat(ptsEcore), fit: fitE, xMax: 500, yMin: 0.6, yMax: 1.2, xt: xTicksEF, yt: yTicksEF,
    box: [0, 610, 300, 310], plot: [68, 636, 290, 858], ytc: 18, xtc: 46, fs: 14.5, dot: '#c2c2c2', r: 2.4, line: '#000', lw: 2.6 },
  { letter: 'F', lx: 320, ly: 620, note: 'Non-Viewing eye', nr: 567, nt: 643, pts: ptsF.concat(ptsFcore), fit: fitF, xMax: 500, yMin: 0.6, yMax: 1.2, xt: xTicksEF, yt: yTicksEF,
    box: [309, 610, 300, 310], plot: [376, 636, 598, 858], ytc: 18, xtc: 46, fs: 14.5, dot: '#c2c2c2', r: 2.4, line: '#000', lw: 2.6 },
  { letter: 'G', lx: 12, ly: 935, note: 'Viewing Eye', nr: 277, nt: 963, pts: ptsG, fit: fitG, xMax: 345, yMin: 0.4, yMax: 1.3, xt: xTicksGI, yt: yTicksGI,
    box: [0, 930, 300, 308], plot: [67, 953, 288, 1175], ytc: 17, xtc: 47, fs: 14.5, dot: '#c6c6c6', r: 2.5, line: '#222', lw: 1.5 },
  { letter: 'I', lx: 325, ly: 935, note: 'Non-Viewing Eye', nr: 592, nt: 963, pts: ptsI, fit: fitI, xMax: 345, yMin: 0.4, yMax: 1.3, xt: xTicksGI, yt: yTicksGI,
    box: [309, 930, 300, 308], plot: [376, 953, 598, 1177], ytc: 17, xtc: 45, fs: 14.5, dot: '#c6c6c6', r: 2.5, line: '#222', lw: 1.5 }
];

const FONT = '"Liberation Sans", Arial, sans-serif';
const fig = document.getElementById('fig');

// top and right sides of the plot frame
const framePlugin = {
  id: 'frame',
  afterDraw(chart) {
    const { ctx, chartArea: a } = chart;
    ctx.save();
    ctx.strokeStyle = '#8a8a8a';
    ctx.lineWidth = 1;
    ctx.beginPath();
    ctx.moveTo(Math.round(a.left) + 0.5, Math.round(a.top) + 0.5);
    ctx.lineTo(Math.round(a.right) + 0.5, Math.round(a.top) + 0.5);
    ctx.lineTo(Math.round(a.right) + 0.5, Math.round(a.bottom) + 0.5);
    ctx.stroke();
    ctx.restore();
  }
};

panels.forEach(p => {
  const [cl, ct, cw, ch] = p.box;
  const [L, T, R, B] = p.plot;
  const lh = p.fs * 1.2;

  const canvas = document.createElement('canvas');
  canvas.width = cw; canvas.height = ch;
  canvas.style.left = cl + 'px'; canvas.style.top = ct + 'px';
  canvas.style.width = cw + 'px'; canvas.style.height = ch + 'px';
  fig.appendChild(canvas);

  const yw = L - cl;
  const xh = ct + ch - B;

  new Chart(canvas, {
    type: 'scatter',
    data: {
      datasets: [
        { data: p.fit.map(d => ({ x: d[0], y: d[1] })), showLine: true, pointRadius: 0,
          borderColor: p.line, borderWidth: p.lw, cubicInterpolationMode: 'monotone', fill: false },
        { data: p.pts.map(d => ({ x: d[0], y: d[1] })), pointRadius: p.r, pointBorderWidth: 0,
          backgroundColor: p.dot, borderColor: p.dot }
      ]
    },
    options: {
      responsive: false,
      animation: false,
      devicePixelRatio: 1,
      layout: { padding: { top: T - ct, right: cl + cw - R, left: 0, bottom: 0 } },
      plugins: { legend: { display: false }, tooltip: { enabled: false } },
      scales: {
        x: {
          type: 'linear', min: 0, max: p.xMax,
          afterBuildTicks: s => { s.ticks = p.xt.map(v => ({ value: v })); },
          afterFit: s => { s.height = xh; },
          grid: { drawOnChartArea: false, drawTicks: true, tickLength: 4, tickColor: '#777' },
          border: { display: true, color: '#7a7a7a', width: 1 },
          ticks: { color: '#111', font: { family: FONT, size: p.fs }, padding: 4, maxRotation: 0, autoSkip: false },
          title: { display: true, text: 'Saccade Number', color: '#111', font: { family: FONT, size: p.fs },
                   padding: { top: 0, bottom: xh - p.xtc - lh / 2 } }
        },
        y: {
          type: 'linear', min: p.yMin, max: p.yMax,
          afterBuildTicks: s => { s.ticks = p.yt.map(v => ({ value: v })); },
          afterFit: s => { s.width = yw; },
          grid: { drawOnChartArea: false, drawTicks: true, tickLength: 4, tickColor: '#777' },
          border: { display: true, color: '#7a7a7a', width: 1 },
          ticks: { color: '#111', font: { family: FONT, size: p.fs }, padding: 5, autoSkip: false,
                   callback: v => Number(v).toFixed(1) },
          title: { display: true, text: 'Saccade Gain', color: '#111', font: { family: FONT, size: p.fs },
                   padding: { top: p.ytc - lh / 2, bottom: 0 } }
        }
      }
    },
    plugins: [framePlugin]
  });

  const lab = document.createElement('div');
  lab.className = 'lab';
  lab.textContent = p.letter;
  lab.style.left = p.lx + 'px'; lab.style.top = p.ly + 'px';
  fig.appendChild(lab);

  const note = document.createElement('div');
  note.className = 'note';
  note.textContent = p.note;
  note.style.right = (618 - p.nr) + 'px'; note.style.top = p.nt + 'px';
  fig.appendChild(note);
});
</script>
</body>
</html>
